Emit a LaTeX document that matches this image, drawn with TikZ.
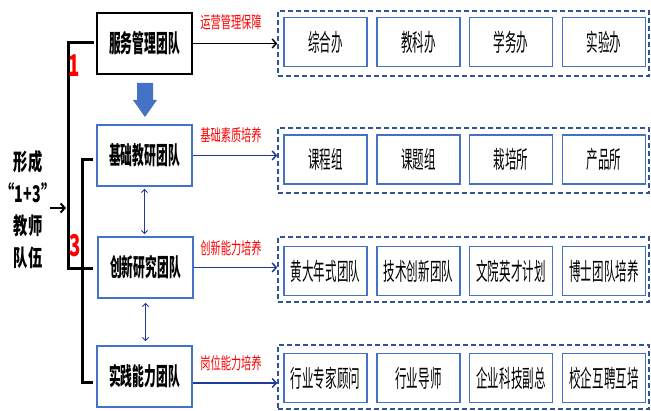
\documentclass[tikz,border=0pt]{standalone}
\usepackage{fontspec}
\newfontfamily\cjk[FakeStretch=0.62]{Noto Sans CJK SC}
\newfontfamily\cjkn[FakeStretch=0.48]{Noto Sans CJK SC}
\newfontfamily\cjkl[FakeStretch=0.62]{Noto Sans CJK SC}
\usetikzlibrary{arrows.meta}
\definecolor{boxblue}{HTML}{4472C4}
\definecolor{dashblue}{HTML}{2F5597}
\definecolor{navy}{HTML}{1F3A9A}
\definecolor{lred}{HTML}{FF0000}
\begin{document}
\begin{tikzpicture}[x=1pt,y=-1pt,
  team/.style={draw=boxblue, line width=1.6pt, minimum width=95pt, minimum height=61pt, inner sep=0pt, font=\cjkn\bfseries\fontsize{24.5}{24.5}\selectfont},
  item/.style={draw=boxblue, line width=1.4pt, minimum width=83pt, minimum height=49pt, inner sep=0pt, font=\cjkn\fontsize{24}{24}\selectfont},
  grp/.style={draw=dashblue, line width=1.6pt, dash pattern=on 5pt off 3pt},
  lbl/.style={text=lred, font=\cjkl\fontsize{16.5}{16.5}\selectfont, inner sep=0pt},
  flow/.style={line width=1.5pt, -{Straight Barb[length=4pt,width=9pt]}},
  dbl/.style={navy, line width=1pt, {Straight Barb[length=3pt,width=6pt]}-{Straight Barb[length=3pt,width=6pt]}},
  brk/.style={line width=3pt}]
\useasboundingbox (0,0) rectangle (651,411);

% left team boxes
\node[team, draw=black] (b1) at (144.5,43.5) {服务管理团队};
\node[team] (b2) at (144.5,155.5) {基础教研团队};
\node[team] (b3) at (145.5,267.5) {创新研究团队};
\node[team] (b4) at (144.5,376.5) {实践能力团队};

% dashed groups
\node[grp, minimum width=371pt, minimum height=65pt, inner sep=0pt] (g1) at (463.5,43.5) {};
\node[grp, minimum width=371pt, minimum height=65pt, inner sep=0pt] (g2) at (463.5,160.5) {};
\node[grp, minimum width=371pt, minimum height=65pt, inner sep=0pt] (g3) at (463.5,269.5) {};
\node[grp, minimum width=371pt, minimum height=64pt, inner sep=0pt] (g4) at (463.5,377) {};

% items
\node[item] (i11) at (325.5,42) {综合办};
\node[item] (i12) at (418.5,42) {教科办};
\node[item] (i13) at (511,42) {学务办};
\node[item] (i14) at (604,42) {实验办};
\node[item] (i21) at (325.5,159.5) {课程组};
\node[item] (i22) at (418.5,159.5) {课题组};
\node[item] (i23) at (511,159.5) {栽培所};
\node[item] (i24) at (604,159.5) {产品所};
\node[item] (i31) at (325.5,271) {黄大年式团队};
\node[item] (i32) at (418.5,271) {技术创新团队};
\node[item] (i33) at (511,271) {文院英才计划};
\node[item] (i34) at (604,271) {博士团队培养};
\node[item] (i41) at (325.5,378) {行业专家顾问};
\node[item] (i42) at (418.5,378) {行业导师};
\node[item] (i43) at (511,378) {企业科技副总};
\node[item] (i44) at (604,378) {校企互聘互培};

% row arrows
\draw[flow, black] (b1.east) -- (b1.east -| g1.west);
\draw[flow, navy] (b2.east) -- (b2.east -| g2.west);
\draw[flow, navy] (b3.east) -- (b3.east -| g3.west);
\draw[flow, navy] (b4.east |- 0,383) -- (g4.west |- 0,383);

% red labels
\node[lbl] (l1) at (231,22) {运营管理保障};
\node[lbl] (l2) at (231,135) {基础素质培养};
\node[lbl] (l3) at (231,248) {创新能力培养};
\node[lbl] (l4) at (231,363) {岗位能力培养};

% big blue arrow
\fill[boxblue] (137,83) -- (153,83) -- (153,100) -- (157,100) -- (145,117) -- (133,100) -- (137,100) -- cycle;

% double arrows
\draw[dbl] ([yshift=-2pt]b2.south) -- ([yshift=2pt]b2.south |- b3.north);
\draw[dbl] ([yshift=-4pt]b3.south) -- ([yshift=4pt]b3.south |- b4.north);

% brackets
\coordinate (t1) at (94,43);
\coordinate (c1) at (68,43);
\coordinate (c2) at (68,269);
\coordinate (t3) at (93,269);
\draw[brk] (t1) -- (c1) -- (c2) -- (t3);
\coordinate (d1) at (82,160);
\coordinate (d2) at (82,383);
\draw[brk] (93,160) -- (d1) -- (d2) -- (93,383);

% left label
\node[font=\cjk\bfseries\fontsize{23}{32}\selectfont, align=center, inner sep=0pt] (lt) at (28,210) {形成\\“1+3”\\教师\\队伍};
\draw[line width=2pt, -{Straight Barb[length=4pt,width=9pt]}] (50,208) -- (66,208);

% numbers
\node[text=lred, font=\cjk\bfseries\fontsize{30}{30}\selectfont, inner sep=0pt] (n1) at (74,66) {1};
\node[text=lred, font=\cjk\bfseries\fontsize{30}{30}\selectfont, inner sep=0pt] (n3) at (75,246) {3};
\end{tikzpicture}
\end{document}
